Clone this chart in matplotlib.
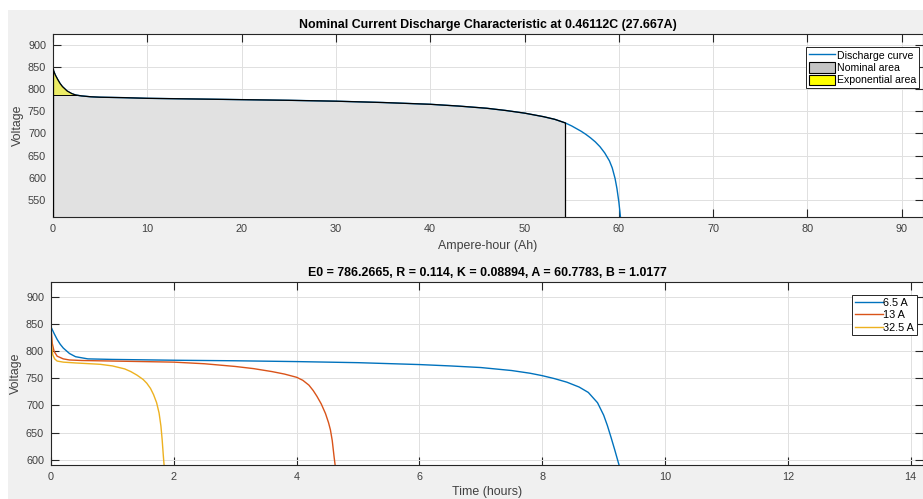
import numpy as np
import matplotlib
matplotlib.use("Agg")
import matplotlib.pyplot as plt
from matplotlib.patches import Patch, Rectangle
from matplotlib.lines import Line2D

plt.rcParams['font.family'] = ['Liberation Sans', 'DejaVu Sans']

# nominal discharge curve (Ah, V)
ah = [0, 0.25, 0.5, 0.75, 1.0, 1.5, 2.0, 2.4, 3.0, 4.0, 5.0, 7.5, 10, 15, 20, 25,
      30, 35, 40, 43, 46, 48, 50, 52, 53.2, 54.3, 55.0, 55.5, 56.0, 56.5, 57.0, 57.5,
      58.0, 58.5, 59.0, 59.3, 59.6, 59.8, 60.0, 60.2]
volt = [845, 832, 822, 813, 806, 796, 790, 787, 785, 783, 782, 781, 779.5, 778, 776.5, 775,
        773, 770, 766, 762, 757, 752, 746, 738, 732, 724, 717, 711, 705, 698, 690, 681,
        670, 656, 638, 622, 598, 575, 545, 505]
q_nom, q_exp, v_exp = 54.3, 2.4, 786

# discharge at three currents (hours, V)
t_65 = [0, 0.05, 0.1, 0.15, 0.2, 0.3, 0.4, 0.6, 1.0, 2.0, 3.0, 4.0, 5.0, 6.0, 6.5, 7.0,
        7.5, 7.8, 8.0, 8.2, 8.4, 8.6, 8.75, 8.9, 9.0, 9.06, 9.12, 9.18, 9.25, 9.29]
v_65 = [845, 833, 822, 813, 806, 796, 790, 786, 785, 783.5, 782.5, 781, 779, 775.5, 773, 770,
        764.5, 759.5, 755, 749.5, 743, 734, 724, 705, 682, 663, 641, 618, 590, 578]
t_13 = [0, 0.02, 0.05, 0.1, 0.2, 0.3, 0.5, 1.0, 2.0, 2.5, 3.0, 3.3, 3.6, 3.8, 4.0, 4.1,
        4.2, 4.27, 4.33, 4.4, 4.47, 4.52, 4.55, 4.58, 4.61, 4.64]
v_13 = [845, 815, 800, 791, 786, 784, 783, 782, 780, 777, 772, 768, 762.5, 758, 752, 746.5,
        737.5, 727.5, 717, 703, 685, 668, 655, 635, 605, 578]
t_325 = [0, 0.01, 0.03, 0.06, 0.1, 0.2, 0.4, 0.8, 1.0, 1.2, 1.3, 1.4, 1.5, 1.56, 1.62,
         1.67, 1.72, 1.76, 1.79, 1.81, 1.83, 1.85]
v_325 = [845, 810, 793, 786, 782, 780, 778.5, 776, 773, 767.5, 762.5, 756, 748, 741, 731.5,
         720, 705, 686, 662, 637, 606, 578]

title_top = "Nominal Current Discharge Characteristic at 0.46112C (27.667A)"
title_bot = "E0 = 786.2665, R = 0.114, K = 0.08894, A = 60.7783, B = 1.0177"

blue, red, yellow = "#0072BD", "#D95319", "#EDB120"
txt = "#404040"

fig = plt.figure(figsize=(9.23, 4.99), dpi=100, facecolor="white")
fig.patches.append(Rectangle((8 / 923, 0), 1, 1 - 10 / 499, transform=fig.transFigure,
                             facecolor="#f0f0f0", edgecolor="none", zorder=-10))

ax1 = fig.add_axes([53 / 923, (499 - 217) / 499, (923 - 53) / 923, 183 / 499])
ax2 = fig.add_axes([51 / 923, (499 - 465) / 499, (923 - 51) / 923, 183 / 499])


def style_axes(ax):
    ax.set_facecolor("white")
    ax.grid(True, color="#e0e0e0", linewidth=0.7)
    ax.set_axisbelow(True)
    ax.tick_params(direction="in", top=True, right=True, length=6, width=0.8,
                   labelsize=7.8, colors="#262626", labelcolor=txt, pad=5)
    for sp in ax.spines.values():
        sp.set_color("#262626")
        sp.set_linewidth(0.8)


# top panel
a = np.array(ah)
v = np.array(volt)
nom = a <= q_nom
ax1.fill_between(a[nom], 0, v[nom], facecolor="#e1e1e1", edgecolor="none", zorder=1)
ax1.plot(a, v, color=blue, linewidth=1.0, zorder=2)
ax1.plot(a[nom], v[nom], color="black", linewidth=0.9, zorder=4)
ax1.plot([q_nom, q_nom], [0, v[a == q_nom][0]], color="black", linewidth=0.9, zorder=4)
ax1.plot([0, 0], [0, v[0]], color="black", linewidth=0.9, zorder=4)
ex = a <= q_exp
ax1.fill_between(a[ex], v_exp, v[ex], facecolor="#ecec66", edgecolor="none", zorder=3)
ax1.plot([0, q_exp], [v_exp, v_exp], color="black", linewidth=0.7, zorder=4)

style_axes(ax1)
ax1.set_xlim(0, 92.25)
ax1.set_ylim(511, 925)
ax1.set_xticks(range(0, 100, 10))
ax1.set_yticks(range(550, 901, 50))
ax1.set_title(title_top, fontsize=8.9, fontweight="bold", color="black", pad=4)
ax1.set_xlabel("Ampere-hour (Ah)", fontsize=8.9, color=txt, labelpad=4)
ax1.set_ylabel("Voltage", fontsize=8.9, color=txt, labelpad=3)
handles = [Line2D([], [], color=blue, linewidth=1.0),
           Patch(facecolor="#c4c4c4", edgecolor="black", linewidth=0.8),
           Patch(facecolor="#ffff00", edgecolor="black", linewidth=0.8)]
leg = ax1.legend(handles, ["Discharge curve", "Nominal area", "Exponential area"],
                 loc="upper right", bbox_to_anchor=(0.9975, 0.94), fontsize=7.6,
                 frameon=True, fancybox=False, edgecolor="#262626", framealpha=1,
                 handlelength=2.5, handleheight=1.15, handletextpad=0.15, borderpad=0.25,
                 labelspacing=0.15, borderaxespad=0.2)
leg.get_frame().set_linewidth(0.7)

# bottom panel
ax2.plot(t_65, v_65, color=blue, linewidth=1.0, label="6.5 A")
ax2.plot(t_13, v_13, color=red, linewidth=1.0, label="13 A")
ax2.plot(t_325, v_325, color=yellow, linewidth=1.0, label="32.5 A")
style_axes(ax2)
ax2.set_xlim(0, 14.2)
ax2.set_ylim(590, 928)
ax2.set_xticks(range(0, 15, 2))
ax2.set_yticks(range(600, 901, 50))
ax2.set_title(title_bot, fontsize=8.9, fontweight="bold", color="black", pad=4)
ax2.set_xlabel("Time (hours)", fontsize=8.9, color=txt, labelpad=3)
ax2.set_ylabel("Voltage", fontsize=8.9, color=txt, labelpad=3)
leg2 = ax2.legend(loc="upper right", bbox_to_anchor=(0.9955, 0.94), fontsize=7.8,
                  frameon=True, fancybox=False, edgecolor="#262626", framealpha=1,
                  handlelength=2.6, handletextpad=0.05, borderpad=0.25, labelspacing=0.22,
                  borderaxespad=0.2)
leg2.get_frame().set_linewidth(0.7)

fig.savefig("out.png", dpi=100, facecolor=fig.get_facecolor())
